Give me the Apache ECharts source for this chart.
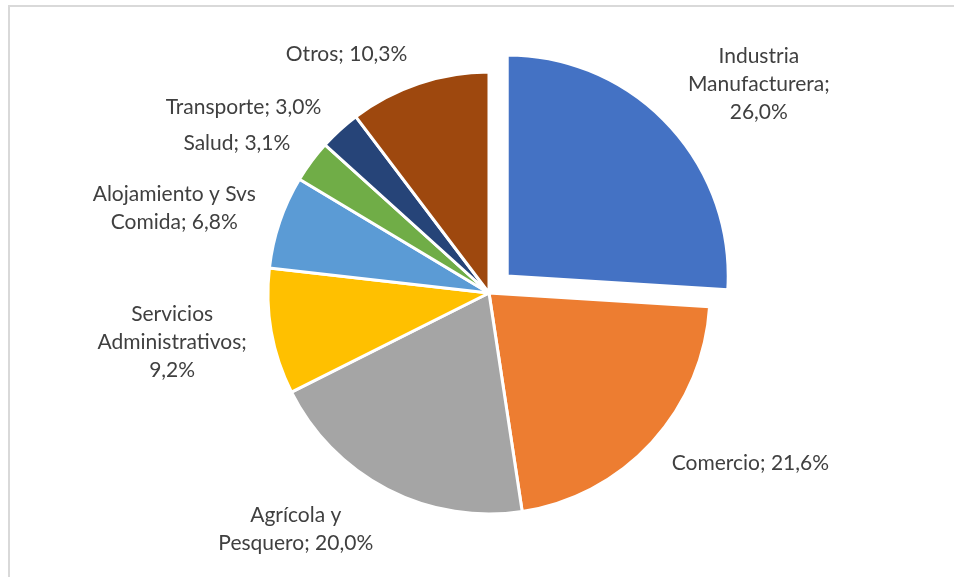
<!DOCTYPE html>
<html>
<head>
<meta charset="utf-8">
<script src="https://cdn.jsdelivr.net/npm/echarts@6/dist/echarts.min.js"></script>
<style>
  html, body { margin: 0; padding: 0; background: #fff; }
  #chart { width: 954px; height: 577px; }
</style>
</head>
<body>
<div id="chart"></div>
<script>
// sectores - participacion (%)
var categories = ['Industria Manufacturera', 'Comercio', 'Agrícola y Pesquero', 'Servicios Administrativos',
    'Alojamiento y Svs Comida', 'Salud', 'Transporte', 'Otros'];
var values = [26.0, 21.6, 20.0, 9.2, 6.8, 3.1, 3.0, 10.3];
// etiquetas como las corta Excel
var labelLines = [
    ['Industria', 'Manufacturera;', '26,0%'],
    ['Comercio; 21,6%'],
    ['Agrícola y', 'Pesquero; 20,0%'],
    ['Servicios', 'Administrativos;', '9,2%'],
    ['Alojamiento y Svs', 'Comida; 6,8%'],
    ['Salud; 3,1%'],
    ['Transporte; 3,0%'],
    ['Otros; 10,3%']
];
var colors = ['#4472C4', '#ED7D31', '#A5A5A5', '#FFC000', '#5B9BD5', '#70AD47', '#264478', '#9E480E'];

(function () {
    var myChart = echarts.init(document.getElementById('chart'));

    var total = values.reduce(function (a, b) { return a + b; }, 0);
    // angulo medio de cada sector (desde arriba, sentido horario)
    var midAngles = [];
    var acc = 0;
    values.forEach(function (v) {
        midAngles.push((acc + v / 2) / total * 2 * Math.PI);
        acc += v;
    });

    var data = categories.map(function (c, i) {
        return { name: c, value: values[i], selected: i === 0 };
    });

    var option = {
        animation: false,
        color: colors,
        graphic: [{
            type: 'rect',
            shape: { x: 9, y: 6, width: 1000, height: 1000 },
            style: { fill: 'none', stroke: '#d9d9d9', lineWidth: 2 },
            silent: true
        }],
        series: [{
            type: 'pie',
            center: [489, 293],
            radius: 221,
            startAngle: 90,
            clockwise: true,
            selectedMode: 'single',
            selectedOffset: 25,
            avoidLabelOverlap: true,
            emphasis: { disabled: true },
            itemStyle: { borderColor: '#fff', borderWidth: 3 },
            label: {
                position: 'outside',
                formatter: function (p) {
                    return labelLines[p.dataIndex].map(function (l) { return '{a|' + l + '}'; }).join('\n');
                },
                rich: {
                    a: {
                        align: 'center',
                        fontFamily: 'Lato',
                        fontSize: 21,
                        lineHeight: 28,
                        color: '#404040'
                    }
                }
            },
            labelLine: { show: false, length: 20, length2: 0 },
            // como Excel: la caja de la etiqueta queda por fuera del círculo
            labelLayout: function (p) {
                return { dy: -Math.cos(midAngles[p.dataIndex]) * p.labelRect.height / 2 };
            },
            data: data
        }]
    };

    myChart.setOption(option);
})();
</script>
</body>
</html>
